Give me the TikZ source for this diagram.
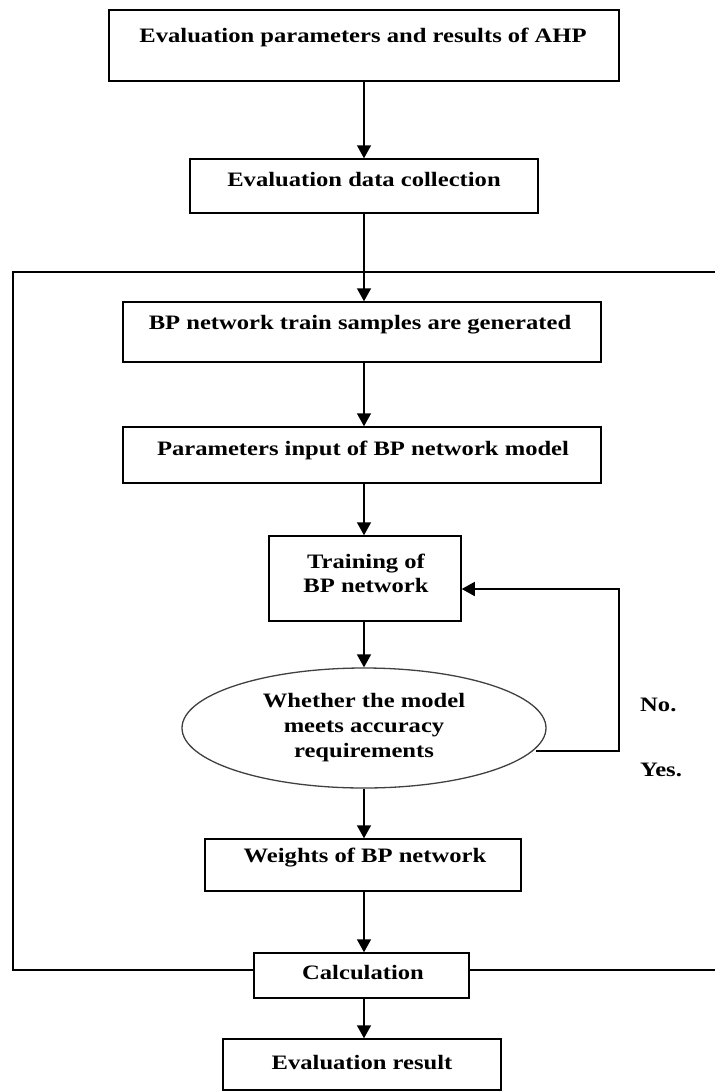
\documentclass[tikz,border=0pt]{standalone}
\usepackage{fontspec}
\setmainfont{Liberation Serif}[FakeStretch=1.2]
\usetikzlibrary{shapes.geometric,arrows.meta}
\begin{document}
\begin{tikzpicture}[x=1pt,y=-1pt,
  box/.style={draw,line width=1.5pt,inner sep=0pt},
  txt/.style={font=\bfseries\fontsize{20.5}{24}\selectfont,inner sep=0pt,align=center},
  arr/.style={line width=1.5pt,-{Triangle[width=14pt,length=13pt]}},
  ln/.style={line width=1.5pt}]
\useasboundingbox (0,0) rectangle (715,1092);
% boxes
\node[box,minimum width=510pt,minimum height=71pt] (b1) at (364,45.5) {};
\node[box,minimum width=348pt,minimum height=54pt] (b2) at (364,186) {};
\node[box,minimum width=478pt,minimum height=60pt] (b3) at (362,332) {};
\node[box,minimum width=478pt,minimum height=56pt] (b4) at (362,455) {};
\node[box,minimum width=192pt,minimum height=85pt] (b5) at (365,578.5) {};
\node[draw=black!75,line width=1.3pt,ellipse,minimum width=364pt,minimum height=120pt,inner sep=0pt] (e1) at (364,728) {};
\node[box,minimum width=316pt,minimum height=52pt] (b6) at (363,865) {};
\node[box,minimum width=215pt,minimum height=45pt] (b7) at (361.5,975.5) {};
\node[box,minimum width=278pt,minimum height=51pt] (b8) at (362,1064.5) {};
% texts
\node[txt] (t1) at (363,37) {Evaluation parameters and results of AHP};
\node[txt] (t2) at (364,180) {Evaluation data collection};
\node[txt] (t3) at (360,325) {BP network train samples are generated};
\node[txt] (t4) at (363,450) {Parameters input of BP network model};
\node[txt] (t5) at (366,573.5) {Training of\\BP network};
\node[txt,font=\bfseries\fontsize{20.5}{25}\selectfont] (t6) at (364,728) {Whether the model\\meets accuracy\\requirements};
\node[txt] (t7) at (365,858) {Weights of BP network};
\node[txt] (t8) at (363,973) {Calculation};
\node[txt] (t9) at (362,1062) {Evaluation result};
\node[txt,anchor=west] (no) at (640,705) {No.};
\node[txt,anchor=west] (yes) at (640,770) {Yes.};
% frame
\coordinate (ftr) at (715,272);
\coordinate (ftl) at (13,272);
\coordinate (fbl) at (13,970);
\coordinate (fbr) at (715,970);
\draw[ln] (ftr) -- (ftl) -- (fbl) -- (fbl -| b7.west);
\draw[ln] (fbr -| b7.east) -- (fbr);
% arrows
\draw[arr] (b1.south -| 364,0) -- (b2.north -| 364,0);
\draw[arr] (b2.south -| 364,0) -- (b3.north -| 364,0);
\draw[arr] (b3.south -| 364,0) -- (b4.north -| 364,0);
\draw[arr] (b4.south -| 364,0) -- (b5.north -| 364,0);
\draw[arr] (b5.south -| 364,0) -- (e1.north -| 364,0);
\draw[arr] (e1.south -| 364,0) -- (b6.north -| 364,0);
\draw[arr] (b6.south -| 364,0) -- (b7.north -| 364,0);
\draw[arr] (b7.south -| 364,0) -- (b8.north -| 364,0);
% feedback
\coordinate (fb0) at (536,751);
\coordinate (fb1) at (619,751);
\coordinate (fb2) at (619,589);
\draw[arr] (fb0) -- (fb1) -- (fb2) -- (fb2 -| b5.east);
\end{tikzpicture}
\end{document}
